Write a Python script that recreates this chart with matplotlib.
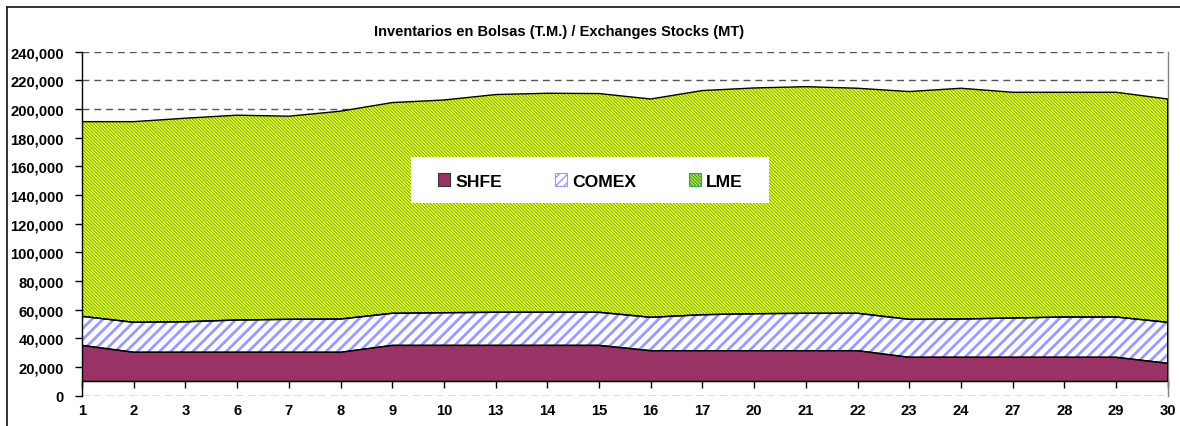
import numpy as np
import matplotlib
matplotlib.use("Agg")
import matplotlib.pyplot as plt
from matplotlib.patches import Patch, Rectangle
from matplotlib.lines import Line2D

# ---- data ----
days = ["1", "2", "3", "6", "7", "8", "9", "10", "13", "14", "15", "16",
        "17", "20", "21", "22", "23", "24", "27", "28", "29", "30"]
shfe = [35100, 30300, 30300, 30300, 30300, 30300, 35100, 35100, 35100, 35100, 35100,
        31400, 31400, 31400, 31400, 31400, 26800, 26800, 26800, 26800, 26800, 22600]
comex = [20300, 20900, 21300, 22500, 23000, 23200, 22400, 22800, 23100, 23100, 23100,
         23300, 25100, 25800, 26100, 26100, 26500, 26700, 27400, 28100, 28100, 28600]
lme = [135800, 140000, 142000, 142900, 141700, 145000, 147000, 148400, 151900, 152800, 152600,
       152300, 156400, 157500, 158100, 157000, 158900, 161000, 157500, 156800, 156800, 155800]
series_names = ["SHFE", "COMEX", "LME"]
title = "Inventarios en Bolsas (T.M.) / Exchanges Stocks (MT)"
y_ticks = list(range(0, 240001, 20000))
axis_cross = 10000

plt.rcParams['font.family'] = ['Liberation Sans', 'DejaVu Sans']
plt.rcParams['font.weight'] = 'bold'

W, H = 1180, 427
fig = plt.figure(figsize=(W / 100, H / 100), dpi=100)
fig.patch.set_facecolor('white')

ax = fig.add_axes([82 / W, 1 - 396.7 / H, (1167.7 - 82) / W, (396.7 - 52.7) / H])

x = np.arange(len(days))
s1 = np.array(shfe, dtype=float)
s2 = s1 + np.array(comex, dtype=float)
s3 = s2 + np.array(lme, dtype=float)
base = np.full_like(s1, axis_cross)

# fills
ax.fill_between(x, base, s1, facecolor='#993366', edgecolor='#993366', linewidth=0, zorder=2)
with plt.rc_context({'hatch.linewidth': 2.0}):
    ax.fill_between(x, s1, s2, facecolor='white', edgecolor='#9999FF', hatch='///',
                    linewidth=0, zorder=2)
with plt.rc_context({'hatch.linewidth': 0.55}):
    ax.fill_between(x, s2, s3, facecolor='#FFFF00', edgecolor='#339966', hatch='\\' * 10,
                    linewidth=0, zorder=2)
# outlines
for lo, hi in [(base, s1), (s1, s2), (s2, s3)]:
    ax.fill_between(x, lo, hi, facecolor='none', edgecolor='black', linewidth=1.0, zorder=3)

ax.set_xlim(0, len(days) - 1)
ax.set_ylim(0, 240000)
ax.set_yticks(y_ticks)
ax.set_yticklabels([f"{v:,}" for v in y_ticks], fontsize=10.6, fontweight='bold')
ax.set_xticks(x)
ax.set_xticklabels(days, fontsize=10.6, fontweight='bold')
ax.tick_params(axis='x', length=0, pad=5)
ax.tick_params(axis='y', direction='out', length=5, width=1, color='black', pad=8)

ax.grid(axis='y', linestyle=(0, (5, 3.5)), color='#555555', linewidth=1)
ax.set_axisbelow(True)
ax.grid(axis='x', visible=False)
ax.spines['top'].set_visible(False)
ax.spines['bottom'].set_visible(False)
ax.spines['left'].set_color('black')
ax.spines['left'].set_linewidth(1)
ax.spines['right'].set_color('#808080')
ax.spines['right'].set_linewidth(1)

# category axis crossing at 10,000
sec = ax.secondary_xaxis(axis_cross / 240000)
sec.set_xticks(x)
sec.set_xticklabels([])
sec.tick_params(axis='x', direction='out', length=5, width=1, color='black')
sec.spines['bottom'].set_color('black')
sec.spines['bottom'].set_linewidth(1)

# legend
x0 = (411 - 82) / 1086
y0 = (396.7 - 204.3) / 344
ax.add_patch(Rectangle((x0, y0), (769 - 411) / 1086, 46 / 344, transform=ax.transAxes,
                       facecolor='white', edgecolor='none', zorder=5))
with plt.rc_context({'hatch.linewidth': 1.2}):
    handles = [
        Patch(facecolor='#993366', edgecolor='#333333', linewidth=0.8),
        Patch(facecolor='white', edgecolor='#9999FF', hatch='////', linewidth=0.8),
    ]
with plt.rc_context({'hatch.linewidth': 0.55}):
    handles.append(Patch(facecolor='#FFFF00', edgecolor='#339966', hatch='\\' * 10, linewidth=0.8))
leg = ax.legend(handles, series_names, loc='center',
                bbox_to_anchor=((590.5 - 82) / 1086, (396.7 - 182) / 344),
                ncol=3, frameon=False, prop={'weight': 'bold', 'size': 12.6},
                handlelength=0.7, handleheight=0.7, handletextpad=0.3, columnspacing=3.0,
                borderpad=0)
leg.set_zorder(6)
for h in leg.legend_handles:
    h.set_edgecolor(h.get_edgecolor())

fig.text(559 / W, 1 - 31.7 / H, title, ha='center', va='center', fontsize=10.5, fontweight='bold')

# outer frame
fig.add_artist(Line2D([7 / W, 7 / W], [0, 1 - 8 / H], transform=fig.transFigure, color='#222222', linewidth=1.3))
fig.add_artist(Line2D([7 / W, 1], [1 - 8 / H, 1 - 8 / H], transform=fig.transFigure, color='#222222', linewidth=1.3))

fig.savefig('out.png', dpi=100, facecolor='white')
